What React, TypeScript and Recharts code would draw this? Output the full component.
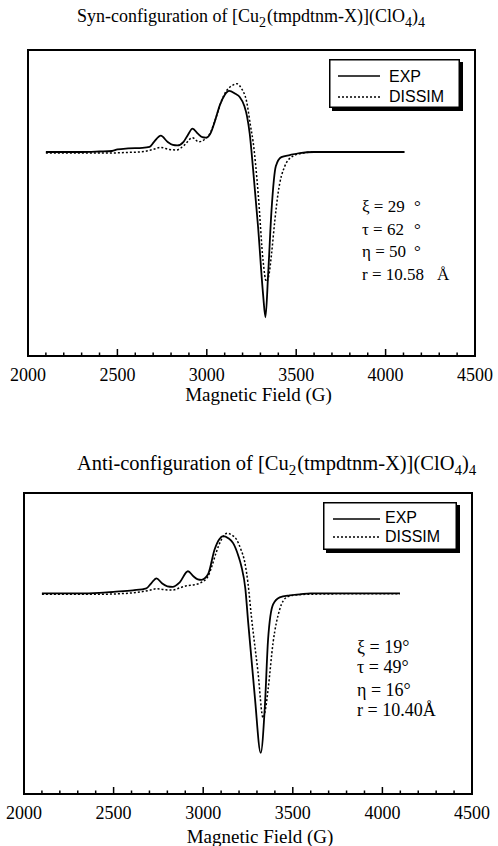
import React from "react";
import {
  LineChart,
  Line,
  XAxis,
  YAxis,
  ReferenceArea,
  Legend,
} from "recharts";

// field (G), intensity (arb. units)
const synExp: [number, number][] = [
  [2100, 0], [2200, 0], [2300, 0], [2400, 0.5], [2470, 1], [2500, 2.5], [2560, 3.5],
  [2640, 4], [2680, 5], [2705, 10], [2743, 16], [2780, 10], [2810, 7], [2835, 6.5],
  [2870, 10], [2895, 17], [2920, 23], [2950, 18], [2975, 14.5], [2995, 14], [3020, 18],
  [3045, 30], [3073, 46], [3100, 56], [3125, 60], [3160, 57], [3184, 54], [3210, 45],
  [3225, 35], [3240, 18], [3259, -17], [3287, -74], [3315, -140], [3328, -162],
  [3343, -120], [3362, -57], [3386, -14], [3417, -5], [3464, -3], [3520, -1],
  [3600, 0], [3800, 0], [4000, 0], [4105, 0],
];

const synSim: [number, number][] = [
  [2100, -1], [2300, -1], [2450, -1], [2550, -0.5], [2650, 0.5], [2700, 2.5],
  [2743, 4.5], [2790, 2.5], [2830, 2], [2870, 6], [2920, 14], [2955, 10], [2985, 12],
  [3020, 19], [3050, 33], [3080, 49], [3110, 60], [3140, 65], [3168, 67], [3195, 62],
  [3222, 50], [3245, 25], [3259, 10], [3287, -40], [3315, -107], [3333, -127],
  [3348, -120], [3362, -100], [3380, -68], [3399, -40], [3436, -14], [3482, -4],
  [3540, -1], [3600, 0], [3800, 0], [4000, 0], [4105, 0],
];

const antiExp: [number, number][] = [
  [2100, 0], [2300, 0], [2420, 0.5], [2500, 1.5], [2608, 3], [2683, 5], [2710, 10],
  [2739, 15], [2770, 10], [2800, 7], [2829, 6.5], [2869, 11], [2915, 22], [2945, 17],
  [2970, 14], [2990, 13.5], [3027, 19], [3064, 44], [3090, 54], [3111, 57], [3140, 55],
  [3167, 50], [3195, 38], [3213, 27], [3235, 5], [3251, -29], [3288, -103],
  [3321, -159], [3344, -113], [3362, -46], [3390, -11], [3427, -4], [3483, -2],
  [3539, -1], [3600, 0], [3800, 0], [4000, 0], [4098, 0],
];

const antiSim: [number, number][] = [
  [2100, -1], [2300, -1], [2400, -1], [2520, -0.5], [2608, 0.5], [2700, 3],
  [2739, 4.5], [2790, 3.5], [2829, 3.3], [2870, 5.5], [2906, 7.5], [2950, 8.5],
  [2980, 10], [3027, 17], [3050, 28], [3073, 41], [3100, 53], [3135, 60], [3160, 58],
  [3185, 54], [3210, 44], [3232, 31], [3250, 10], [3269, -23], [3306, -79],
  [3334, -124], [3348, -115], [3362, -96], [3390, -49], [3427, -16], [3465, -4],
  [3502, -2], [3576, -1], [3800, -0.5], [4000, -0.5], [4098, -0.5],
];

const fieldTicks = [
  2000, 2100, 2200, 2300, 2400, 2500, 2600, 2700, 2800, 2900, 3000, 3100, 3200,
  3300, 3400, 3500, 3600, 3700, 3800, 3900, 4000, 4100, 4200, 4300, 4400, 4500,
];
const labelTicks = [2000, 2500, 3000, 3500, 4000, 4500];
const seriesNames = ["EXP", "DISSIM"];

const synParams = [
  { label: "ξ = 29", unit: "°" },
  { label: "τ = 62", unit: "°" },
  { label: "η = 50", unit: "°" },
  { label: "r = 10.58", unit: "Å" },
];
const antiParams = ["ξ = 19°", "τ = 49°", "η = 16°", "r = 10.40Å"];

const serif = "'Liberation Serif', 'Times New Roman', serif";
const sans = "'Liberation Sans', Arial, sans-serif";

const toRows = (pts: [number, number][]) => pts.map(([field, value]) => ({ field, value }));

function FieldTick(props: any) {
  const { x, y, payload } = props;
  const major = labelTicks.includes(payload.value);
  return (
    <g>
      <line x1={x} x2={x} y1={y} y2={y - (major ? 7 : 3.5)} stroke="#000" strokeWidth={1.5} />
      {major && (
        <text x={x} y={y + 25} textAnchor="middle" fontSize={18} fontFamily={serif} fill="#000">
          {payload.value}
        </text>
      )}
    </g>
  );
}

function legendBox(w: number, h: number, lx: number[], ly: number[], tx: number, ty: number[]) {
  return () => (
    <svg width={w + 4} height={h + 4} style={{ display: "block" }}>
      <rect x={3} y={3} width={w} height={h} fill="#000" />
      <rect x={0.75} y={0.75} width={w - 1.5} height={h - 1.5} fill="#fff" stroke="#000" strokeWidth={1.5} />
      <line x1={lx[0]} x2={lx[1]} y1={ly[0]} y2={ly[0]} stroke="#000" strokeWidth={1.5} />
      <line x1={lx[0]} x2={lx[1]} y1={ly[1]} y2={ly[1]} stroke="#000" strokeWidth={1.5} strokeDasharray="2 2" />
      {seriesNames.map((n, i) => (
        <text key={n} x={tx} y={ty[i]} fontSize={16} fontFamily={sans} fill="#000">
          {n}
        </text>
      ))}
    </svg>
  );
}

function Spectrum({ exp, sim, width, height, margin, legendPos, legend }: any) {
  return (
    <LineChart width={width} height={height} margin={margin}>
      <XAxis
        type="number"
        dataKey="field"
        domain={[2000, 4500]}
        ticks={fieldTicks}
        interval={0}
        axisLine={false}
        tickLine={false}
        tickSize={0}
        tickMargin={0}
        height={30}
        tick={<FieldTick />}
        allowDataOverflow
      />
      <YAxis type="number" domain={[-200, 100]} hide allowDataOverflow />
      <ReferenceArea x1={2000} x2={4500} y1={-200} y2={100} fill="none" stroke="#000" strokeWidth={2} fillOpacity={0} />
      <Line
        data={toRows(exp)}
        dataKey="value"
        name="EXP"
        type="monotone"
        stroke="#000"
        strokeWidth={1.8}
        dot={false}
        isAnimationActive={false}
      />
      <Line
        data={toRows(sim)}
        dataKey="value"
        name="DISSIM"
        type="monotone"
        stroke="#000"
        strokeWidth={1.5}
        strokeDasharray="2 2"
        dot={false}
        isAnimationActive={false}
      />
      <Legend
        layout="vertical"
        align="center"
        verticalAlign="middle"
        content={legend}
        wrapperStyle={{ position: "absolute", left: legendPos[0], top: legendPos[1], width: "auto" }}
      />
    </LineChart>
  );
}

export default function App() {
  return (
    <div style={{ position: "absolute", left: 0, top: 0, width: 498, height: 846, background: "#fff" }}>
      <div style={{ position: "absolute", left: 0, top: 0 }}>
        <Spectrum
          exp={synExp}
          sim={synSim}
          width={498}
          height={430}
          margin={{ top: 50, left: 28, right: 23, bottom: 430 - 356 - 30 }}
          legendPos={[329, 59]}
          legend={legendBox(131, 49, [9, 51], [17, 38], 60, [22.7, 42.7])}
        />
      </div>
      <div style={{ position: "absolute", left: 0, top: 460 }}>
        <Spectrum
          exp={antiExp}
          sim={antiSim}
          width={498}
          height={386}
          margin={{ top: 33, left: 24, right: 26, bottom: 386 - 334 - 30 }}
          legendPos={[323, 42]}
          legend={legendBox(134, 48, [10, 57], [17, 35], 62, [21, 40])}
        />
      </div>
      <svg
        width={498}
        height={846}
        style={{ position: "absolute", left: 0, top: 0, pointerEvents: "none" }}
        fontFamily={serif}
        fill="#000"
      >
        <text x={77} y={22} fontSize={18}>
          Syn-configuration of [Cu<tspan dy={5} fontSize={14}>2</tspan>
          <tspan dy={-5} dx={1}>(tmpdtnm-X)](ClO</tspan>
          <tspan dy={5} fontSize={14}>4</tspan>
          <tspan dy={-5}>)</tspan>
          <tspan dy={5} fontSize={14}>4</tspan>
        </text>
        <text x={258.5} y={401} fontSize={19} textAnchor="middle">
          Magnetic Field (G)
        </text>
        {synParams.map((p, i) => (
          <g key={p.label}>
            <text x={362} y={[212, 235, 257, 280][i]} fontSize={17}>
              {p.label}
            </text>
            <text x={p.unit === "Å" ? 437 : 414} y={[212, 235, 257, 280][i]} fontSize={17}>
              {p.unit}
            </text>
          </g>
        ))}

        <text x={77} y={470} fontSize={20.5}>
          Anti-configuration of [Cu<tspan dy={5} fontSize={15}>2</tspan>
          <tspan dy={-5} dx={1}>(tmpdtnm-X)](ClO</tspan>
          <tspan dy={5} fontSize={15}>4</tspan>
          <tspan dy={-5}>)</tspan>
          <tspan dy={5} fontSize={15}>4</tspan>
        </text>
        <text x={260} y={843} fontSize={19} textAnchor="middle">
          Magnetic Field (G)
        </text>
        {antiParams.map((p, i) => (
          <text key={p} x={357} y={[653, 673, 696, 716][i]} fontSize={18}>
            {p}
          </text>
        ))}
      </svg>
    </div>
  );
}
